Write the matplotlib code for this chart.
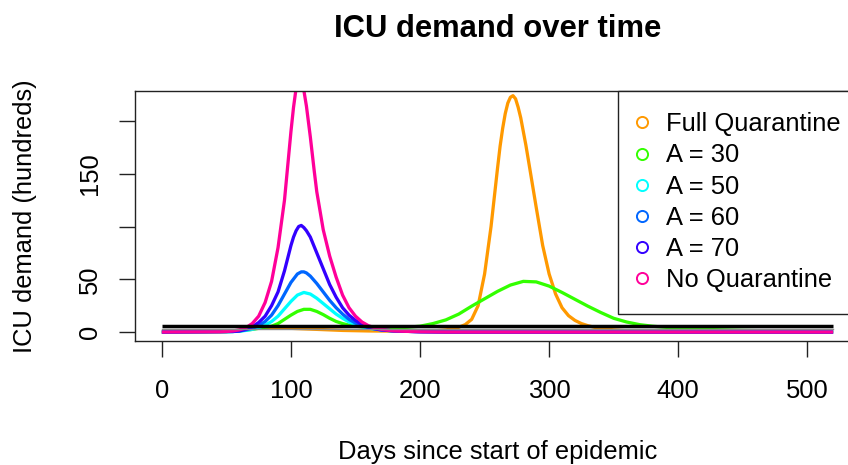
import matplotlib
matplotlib.use("Agg")
import matplotlib.pyplot as plt
from matplotlib.lines import Line2D

plt.rcParams['font.family'] = ['Liberation Sans', 'DejaVu Sans']

title = "ICU demand over time"
xlabel = "Days since start of epidemic"
ylabel = "ICU demand (hundreds)"

x_ticks = [0, 100, 200, 300, 400, 500]
y_ticks = [0, 50, 100, 150, 200]
y_tick_labels = ["0", "50", "", "150", ""]

legend_labels = ["Full Quarantine", "A = 30", "A = 50", "A = 60", "A = 70", "No Quarantine"]
colors = ["#FF9900", "#33FF00", "#00FFFF", "#0066FF", "#3300FF", "#FF0099"]

# Full Quarantine (orange)
full_days = [0, 50, 60, 70, 80, 90, 100, 120, 140, 160, 180, 200, 210, 220, 225, 230, 235, 240,
             245, 250, 255, 258, 260, 262, 264, 266, 268, 270, 272, 274, 276, 278, 280, 282,
             285, 290, 295, 300, 305, 310, 315, 320, 325, 330, 335, 340, 350, 360, 380, 400,
             450, 520]
full_vals = [0, 0.5, 1.5, 3.5, 4.5, 4, 3.5, 2.5, 1.5, 1, 0.8, 0.8, 1, 2, 3, 4.5, 7, 12,
             25, 55, 100, 133, 155, 176, 193, 207, 217, 222.5, 224, 221, 213, 203, 190, 177,
             155, 118, 82, 55, 36, 23, 15.5, 11, 8, 6, 4.5, 3.5, 2, 1.2, 0.6, 0.3,
             0.1, 0]

# A = 30 (green)
a30_days = [0, 50, 60, 70, 80, 85, 90, 95, 100, 105, 110, 115, 120, 125, 130, 135, 140, 145,
            150, 160, 170, 180, 190, 200, 210, 220, 230, 240, 250, 260, 270, 280, 290, 300,
            310, 320, 330, 340, 350, 360, 370, 380, 390, 400, 420, 450, 480, 520]
a30_vals = [0, 0.3, 1, 2.5, 4.5, 5.5, 8, 12, 16, 19.5, 21.5, 21.5, 19.5, 16.5, 13, 10, 8, 6.5,
            5.5, 4.5, 4, 4, 4.5, 5.5, 8, 11.5, 17, 24.5, 31.5, 38.5, 44.5, 48, 47.5, 43.5,
            37.5, 31, 24.5, 18.5, 13, 9.5, 7, 5.5, 4.5, 3.5, 2.5, 1.5, 1, 0.5]

# A = 50 (cyan)
a50_days = [0, 55, 60, 65, 70, 75, 80, 85, 90, 95, 100, 105, 110, 115, 120, 125, 130, 135,
            140, 145, 150, 155, 160, 170, 180, 200, 220, 520]
a50_vals = [0, 0.4, 0.8, 1.5, 2.5, 4, 6.5, 10, 15, 22, 29, 35, 37.5, 36, 32, 27, 22, 17,
            13, 9.5, 7, 5, 3.5, 2, 1, 0.3, 0, 0]

# A = 60 (blue)
a60_days = [0, 55, 60, 65, 70, 75, 80, 85, 90, 95, 100, 105, 108, 110, 112, 115, 120, 125,
            130, 135, 140, 145, 150, 155, 160, 165, 170, 180, 200, 220, 520]
a60_vals = [0, 0.5, 1, 2, 3.5, 6, 10, 16, 25, 36, 47, 55, 57, 57, 56, 53, 46, 38,
            30, 23, 17, 12, 8.5, 6, 4, 3, 2, 1, 0.3, 0, 0]

# A = 70 (violet)
a70_days = [0, 55, 60, 65, 70, 75, 80, 85, 90, 95, 100, 102, 104, 106, 108, 110, 112, 115,
            120, 125, 130, 135, 140, 145, 150, 155, 160, 165, 170, 180, 200, 220, 520]
a70_vals = [0, 0.5, 1, 2.5, 5, 9, 15, 25, 38, 58, 82, 90, 96, 100, 101, 99, 96, 90,
            75, 60, 45, 33, 23, 16, 11, 7, 4.5, 3, 2, 1, 0.3, 0, 0]

# No Quarantine (pink)
noq_days = [0, 45, 50, 55, 60, 65, 70, 75, 80, 85, 90, 95, 100, 102, 104, 106, 108, 110,
            112, 115, 118, 120, 125, 130, 135, 140, 145, 150, 155, 160, 165, 170, 180, 200,
            220, 520]
noq_vals = [0, 0.2, 0.5, 1, 2, 4, 8, 15, 28, 48, 80, 125, 190, 213, 231, 240, 239, 229,
            214, 185, 153, 133, 97, 72, 52, 35, 23, 15, 9.5, 6, 4, 2.5, 1, 0.2,
            0, 0]

series_days = [full_days, a30_days, a50_days, a60_days, a70_days, noq_days]
series_vals = [full_vals, a30_vals, a50_vals, a60_vals, a70_vals, noq_vals]

capacity_days = [0, 520]
capacity_black = [5.4, 5.4]
capacity_gray = [3.1, 3.1]

W, H = 848, 465
fig = plt.figure(figsize=(W / 100, H / 100), dpi=100)
left_px, right_px, top_px, bottom_px = 135, 860, 90.6, 341.3
ax = fig.add_axes([left_px / W, (H - bottom_px) / H,
                   (right_px - left_px) / W, (bottom_px - top_px) / H])

for d, v, c in zip(series_days, series_vals, colors):
    ax.plot(d, v, color=c, lw=2.35, solid_capstyle='butt', solid_joinstyle='round', zorder=2)
ax.plot(capacity_days, capacity_gray, color="#8a8a8a", lw=1.0, zorder=3)
ax.plot(capacity_days, capacity_black, color="black", lw=2.5, solid_capstyle='butt', zorder=4)

ax.set_xlim(-20.8, 540.8)
ax.set_ylim(-8.8, 228.8)

fs = 18.4
ax.set_xticks(x_ticks)
ax.set_xticklabels([str(t) for t in x_ticks], fontsize=fs)
ax.set_yticks(y_ticks)
ax.set_yticklabels(y_tick_labels, fontsize=fs, rotation=90, va='center')
ax.tick_params(axis='x', length=11.5, width=1.0, pad=16, color='#222222')
ax.tick_params(axis='y', length=11.5, width=1.0, pad=12, color='#222222')
for s in ax.spines.values():
    s.set_linewidth(1.0)
    s.set_color('#222222')

ax.set_title(title, fontsize=22.3, fontweight='bold', pad=38.5)
fig.text((left_px + right_px) / 2 / W, 1 - 452 / H, xlabel, fontsize=fs,
         ha='center', va='center')
fig.text(25 / W, 1 - (bottom_px + top_px) / 2 / H, ylabel, fontsize=fs,
         ha='center', va='center', rotation=90)

handles = [Line2D([], [], linestyle='none', marker='o', markersize=8,
                  markerfacecolor='none', markeredgecolor=c, markeredgewidth=1.4)
           for c in colors]
leg_x = (618 - left_px) / (right_px - left_px)
leg = ax.legend(handles, legend_labels, loc='upper left', bbox_to_anchor=(leg_x, 1.0),
                fontsize=fs, frameon=True, fancybox=False, framealpha=1,
                edgecolor='#222222', borderpad=0.85, handlelength=0.2,
                handletextpad=0.84, labelspacing=0.28, borderaxespad=0)
leg.get_frame().set_linewidth(1.0)
leg.set_zorder(10)

fig.savefig("out.png", dpi=100)
